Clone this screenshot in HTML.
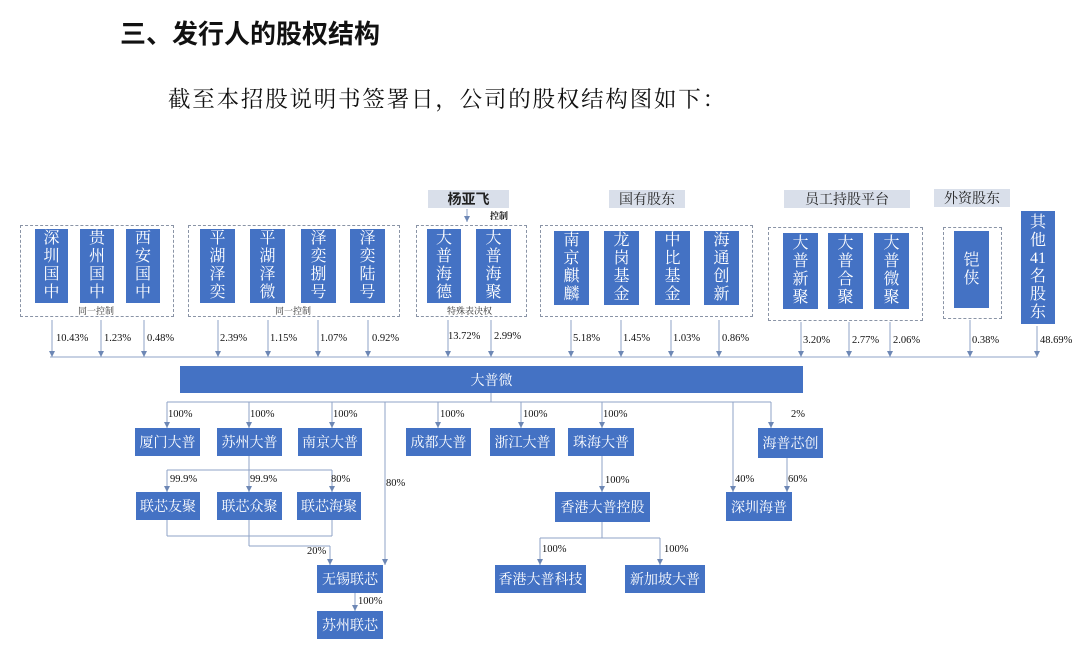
<!DOCTYPE html>
<html><head><meta charset="utf-8"><style>
body{margin:0;background:#fff;}
#c{position:relative;width:1080px;height:668px;overflow:hidden;font-family:"Liberation Serif","Noto Serif CJK SC",serif;}
.b{position:absolute;background:#4472c4;color:#fff;display:flex;align-items:center;justify-content:center;text-align:center;}
.v{flex-direction:column;font-size:16px;line-height:18px;}
.h{font-size:14px;}
.lab{position:absolute;background:#d9dfea;color:#222;font-size:14px;display:flex;align-items:center;justify-content:center;}
.p{position:absolute;font-size:10.5px;color:#111;}
.s{position:absolute;font-size:9px;color:#333;}
.d{position:absolute;border:1px dashed #8a94a6;}
</style></head><body><div id="c">
<div style="position:absolute;left:120px;top:14px;font-family:'Liberation Sans','Noto Sans CJK SC',sans-serif;font-weight:bold;font-size:26px;color:#111;">三、发行人的股权结构</div>
<div style="position:absolute;left:168px;top:82px;font-size:22.5px;letter-spacing:1.8px;color:#111;">截至本招股说明书签署日，公司的股权结构图如下：</div>

<svg width="1080" height="668" style="position:absolute;left:0;top:0">
<defs>
<marker id="m" viewBox="0 0 6 6" markerWidth="6" markerHeight="6" refX="6" refY="3" orient="auto"><path d="M0,0 L6,3 L0,6z" fill="#6d87b5"/></marker></defs>
<g stroke="#8fa3c7" stroke-width="1" fill="none">
<line x1="50" y1="357" x2="1037" y2="357"/>
<line x1="467" y1="209" x2="467" y2="222" marker-end="url(#m)"/>
<g marker-end="url(#m)">
<line x1="52" y1="320" x2="52" y2="357"/><line x1="101" y1="320" x2="101" y2="357"/><line x1="144" y1="320" x2="144" y2="357"/>
<line x1="218" y1="320" x2="218" y2="357"/><line x1="268" y1="320" x2="268" y2="357"/><line x1="318" y1="320" x2="318" y2="357"/><line x1="368" y1="320" x2="368" y2="357"/>
<line x1="448" y1="320" x2="448" y2="357"/><line x1="491" y1="320" x2="491" y2="357"/>
<line x1="571" y1="320" x2="571" y2="357"/><line x1="621" y1="320" x2="621" y2="357"/><line x1="671" y1="320" x2="671" y2="357"/><line x1="719" y1="320" x2="719" y2="357"/>
<line x1="801" y1="322" x2="801" y2="357"/><line x1="849" y1="322" x2="849" y2="357"/><line x1="890" y1="322" x2="890" y2="357"/>
<line x1="970" y1="320" x2="970" y2="357"/><line x1="1037" y1="326" x2="1037" y2="357"/>
</g>
<line x1="491" y1="393" x2="491" y2="402"/>
<line x1="167" y1="402" x2="771" y2="402"/>
<g marker-end="url(#m)">
<line x1="167" y1="402" x2="167" y2="428"/><line x1="249" y1="402" x2="249" y2="428"/><line x1="332" y1="402" x2="332" y2="428"/>
<line x1="438" y1="402" x2="438" y2="428"/><line x1="521" y1="402" x2="521" y2="428"/><line x1="602" y1="402" x2="602" y2="428"/><line x1="771" y1="402" x2="771" y2="428"/>
<line x1="385" y1="402" x2="385" y2="565"/><line x1="733" y1="402" x2="733" y2="492"/>
<line x1="167" y1="470" x2="167" y2="492"/><line x1="249" y1="456" x2="249" y2="492"/><line x1="332" y1="470" x2="332" y2="492"/>
<line x1="330" y1="546" x2="330" y2="565"/>
<line x1="355" y1="593" x2="355" y2="611"/>
<line x1="602" y1="456" x2="602" y2="492"/>
<line x1="540" y1="538" x2="540" y2="565"/><line x1="660" y1="538" x2="660" y2="565"/>
<line x1="787" y1="458" x2="787" y2="492"/>
</g>
<line x1="167" y1="470" x2="332" y2="470"/>
<line x1="167" y1="520" x2="167" y2="536"/><line x1="332" y1="520" x2="332" y2="536"/><line x1="167" y1="536" x2="332" y2="536"/>
<line x1="249" y1="520" x2="249" y2="546"/><line x1="249" y1="546" x2="330" y2="546"/>
<line x1="602" y1="522" x2="602" y2="538"/><line x1="540" y1="538" x2="660" y2="538"/>
</g>
</svg>

<div class="lab" style="left:428px;top:190px;width:81px;height:18px;font-weight:bold;font-family:'Liberation Serif','Noto Sans CJK SC',sans-serif">杨亚飞</div>
<div class="s" style="left:490px;top:209px;font-weight:bold;color:#111">控制</div>
<div class="lab" style="left:609px;top:190px;width:76px;height:18px">国有股东</div>
<div class="lab" style="left:784px;top:190px;width:126px;height:18px">员工持股平台</div>
<div class="lab" style="left:934px;top:189px;width:76px;height:18px">外资股东</div>

<div class="d" style="left:20px;top:225px;width:152px;height:90px"></div>
<div class="d" style="left:188px;top:225px;width:210px;height:90px"></div>
<div class="d" style="left:416px;top:225px;width:109px;height:90px"></div>
<div class="d" style="left:540px;top:225px;width:211px;height:90px"></div>
<div class="d" style="left:768px;top:227px;width:153px;height:92px"></div>
<div class="d" style="left:943px;top:227px;width:57px;height:90px"></div>

<div class="s" style="left:78px;top:304px">同一控制</div>
<div class="s" style="left:275px;top:304px">同一控制</div>
<div class="s" style="left:447px;top:304px">特殊表决权</div>

<div class="b v" style="left:35px;top:229px;width:33px;height:74px">深<br>圳<br>国<br>中</div>
<div class="b v" style="left:80px;top:229px;width:34px;height:74px">贵<br>州<br>国<br>中</div>
<div class="b v" style="left:126px;top:229px;width:34px;height:74px">西<br>安<br>国<br>中</div>
<div class="b v" style="left:200px;top:229px;width:35px;height:74px">平<br>湖<br>泽<br>奕</div>
<div class="b v" style="left:250px;top:229px;width:35px;height:74px">平<br>湖<br>泽<br>微</div>
<div class="b v" style="left:301px;top:229px;width:35px;height:74px">泽<br>奕<br>捌<br>号</div>
<div class="b v" style="left:350px;top:229px;width:35px;height:74px">泽<br>奕<br>陆<br>号</div>
<div class="b v" style="left:427px;top:229px;width:34px;height:74px">大<br>普<br>海<br>德</div>
<div class="b v" style="left:476px;top:229px;width:35px;height:74px">大<br>普<br>海<br>聚</div>
<div class="b v" style="left:554px;top:231px;width:35px;height:74px">南<br>京<br>麒<br>麟</div>
<div class="b v" style="left:604px;top:231px;width:35px;height:74px">龙<br>岗<br>基<br>金</div>
<div class="b v" style="left:655px;top:231px;width:35px;height:74px">中<br>比<br>基<br>金</div>
<div class="b v" style="left:704px;top:231px;width:35px;height:74px">海<br>通<br>创<br>新</div>
<div class="b v" style="left:783px;top:233px;width:35px;height:76px">大<br>普<br>新<br>聚</div>
<div class="b v" style="left:828px;top:233px;width:35px;height:76px">大<br>普<br>合<br>聚</div>
<div class="b v" style="left:874px;top:233px;width:35px;height:76px">大<br>普<br>微<br>聚</div>
<div class="b v" style="left:954px;top:231px;width:35px;height:77px">铠<br>侠</div>
<div class="b v" style="left:1021px;top:211px;width:34px;height:113px">其<br>他<br>41<br>名<br>股<br>东</div>

<div class="p" style="left:56px;top:333px">10.43%</div><div class="p" style="left:104px;top:333px">1.23%</div><div class="p" style="left:147px;top:333px">0.48%</div>
<div class="p" style="left:220px;top:333px">2.39%</div><div class="p" style="left:270px;top:333px">1.15%</div><div class="p" style="left:320px;top:333px">1.07%</div><div class="p" style="left:372px;top:333px">0.92%</div>
<div class="p" style="left:448px;top:331px">13.72%</div><div class="p" style="left:494px;top:331px">2.99%</div>
<div class="p" style="left:573px;top:333px">5.18%</div><div class="p" style="left:623px;top:333px">1.45%</div><div class="p" style="left:673px;top:333px">1.03%</div><div class="p" style="left:722px;top:333px">0.86%</div>
<div class="p" style="left:803px;top:335px">3.20%</div><div class="p" style="left:852px;top:335px">2.77%</div><div class="p" style="left:893px;top:335px">2.06%</div>
<div class="p" style="left:972px;top:335px">0.38%</div><div class="p" style="left:1040px;top:335px">48.69%</div>

<div class="b h" style="left:180px;top:366px;width:623px;height:27px">大普微</div>

<div class="b h" style="left:135px;top:428px;width:65px;height:28px">厦门大普</div>
<div class="b h" style="left:217px;top:428px;width:65px;height:28px">苏州大普</div>
<div class="b h" style="left:298px;top:428px;width:64px;height:28px">南京大普</div>
<div class="b h" style="left:406px;top:428px;width:65px;height:28px">成都大普</div>
<div class="b h" style="left:490px;top:428px;width:65px;height:28px">浙江大普</div>
<div class="b h" style="left:568px;top:428px;width:66px;height:28px">珠海大普</div>
<div class="b h" style="left:758px;top:428px;width:65px;height:30px">海普芯创</div>
<div class="b h" style="left:136px;top:492px;width:64px;height:28px">联芯友聚</div>
<div class="b h" style="left:217px;top:492px;width:65px;height:28px">联芯众聚</div>
<div class="b h" style="left:297px;top:492px;width:64px;height:28px">联芯海聚</div>
<div class="b h" style="left:555px;top:492px;width:95px;height:30px">香港大普控股</div>
<div class="b h" style="left:726px;top:492px;width:66px;height:29px">深圳海普</div>
<div class="b h" style="left:317px;top:565px;width:66px;height:28px">无锡联芯</div>
<div class="b h" style="left:317px;top:611px;width:66px;height:28px">苏州联芯</div>
<div class="b h" style="left:495px;top:565px;width:91px;height:28px">香港大普科技</div>
<div class="b h" style="left:625px;top:565px;width:80px;height:28px">新加坡大普</div>

<div class="p" style="left:168px;top:409px">100%</div><div class="p" style="left:250px;top:409px">100%</div><div class="p" style="left:333px;top:409px">100%</div>
<div class="p" style="left:440px;top:409px">100%</div><div class="p" style="left:523px;top:409px">100%</div><div class="p" style="left:603px;top:409px">100%</div><div class="p" style="left:791px;top:409px">2%</div>
<div class="p" style="left:170px;top:474px">99.9%</div><div class="p" style="left:250px;top:474px">99.9%</div><div class="p" style="left:331px;top:474px">80%</div>
<div class="p" style="left:386px;top:478px">80%</div>
<div class="p" style="left:605px;top:475px">100%</div>
<div class="p" style="left:735px;top:474px">40%</div><div class="p" style="left:788px;top:474px">60%</div>
<div class="p" style="left:307px;top:546px">20%</div>
<div class="p" style="left:542px;top:544px">100%</div><div class="p" style="left:664px;top:544px">100%</div>
<div class="p" style="left:358px;top:596px">100%</div>
</div></body></html>
